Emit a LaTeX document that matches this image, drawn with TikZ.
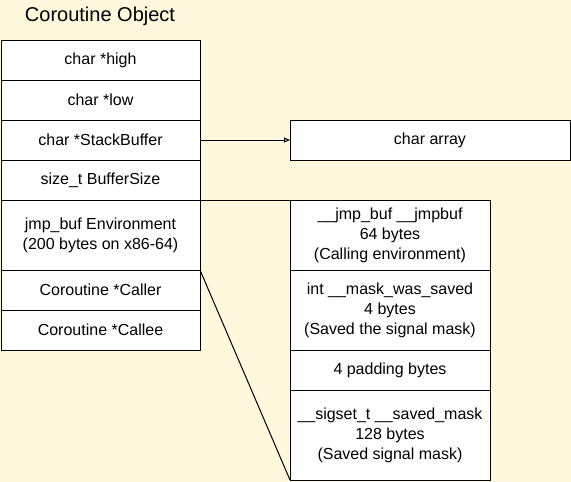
\documentclass[tikz,border=0pt]{standalone}
\usepackage{fontspec}
\setmainfont{Liberation Sans}
\usetikzlibrary{positioning,arrows.meta}
\definecolor{paper}{RGB}{255,248,220}

\begin{document}
\begin{tikzpicture}[x=1pt, y=-1pt,
  field/.style = {draw, fill=white, line width=1pt, outer sep=0pt, inner sep=0pt,
                  align=center, font=\fontsize{16}{20}\selectfont},
  leftfield/.style = {field, minimum width=199pt, minimum height=40pt},
  rightfield/.style = {field, minimum width=200pt}]

\useasboundingbox[fill=paper] (0,0) rectangle (571,482);

\node[font=\fontsize{20}{24}\selectfont] (title) at (100,16) {Coroutine Object};

% the coroutine struct
\node[leftfield] (high) at (100.5,60) {char *high};
\node[leftfield, below=0pt of high] (low) {char *low};
\node[leftfield, below=0pt of low] (stack) {char *StackBuffer};
\node[leftfield, below=0pt of stack] (size) {size\_t BufferSize};
\node[leftfield, below=0pt of size, minimum height=70pt] (env) {jmp\_buf Environment\\(200 bytes on x86-64)};
\node[leftfield, below=0pt of env] (caller) {Coroutine *Caller};
\node[leftfield, below=0pt of caller] (callee) {Coroutine *Callee};

% the stack
\node[field, minimum width=280pt, minimum height=40pt] (chararr) at (430,140) {char array};

% inside jmp_buf
\node[rightfield, minimum height=70pt] (jmpbuf) at (390,235) {\_\_jmp\_buf \_\_jmpbuf\\64 bytes\\(Calling environment)};
\node[rightfield, below=0pt of jmpbuf, minimum height=80pt] (maskflag) {int \_\_mask\_was\_saved\\4 bytes\\(Saved the signal mask)};
\node[rightfield, below=0pt of maskflag, minimum height=40pt] (pad) {4 padding bytes};
\node[rightfield, below=0pt of pad, minimum height=90pt] (sigmask) {\_\_sigset\_t \_\_saved\_mask\\128 bytes\\(Saved signal mask)};

\draw[line width=1pt, -{Triangle[open, length=6pt, width=5pt]}] (stack.east) -- (chararr.west);
\draw[line width=1pt] (env.north east) -- (jmpbuf.north west);
\draw[line width=1pt] (env.south east) -- (sigmask.south west);

\end{tikzpicture}
\end{document}
